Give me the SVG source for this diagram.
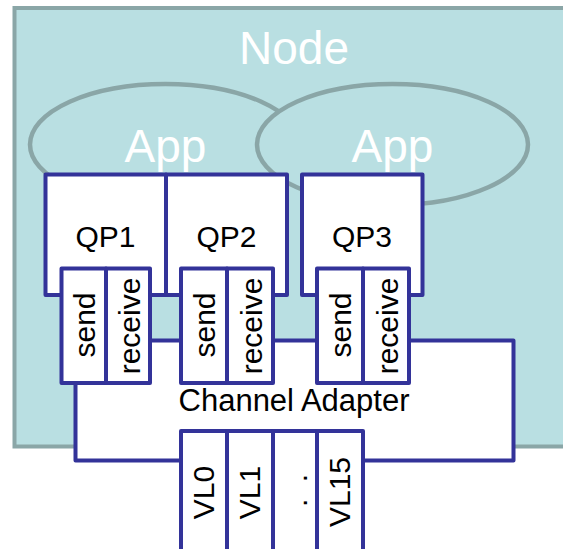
<svg xmlns="http://www.w3.org/2000/svg" width="563" height="549" viewBox="0 0 563 549">
<style>
.txt{font-family:"Liberation Sans",Arial,sans-serif;}
.big{font-size:46px;fill:#ffffff;text-anchor:middle;}
.lbl{font-size:30px;fill:#000000;text-anchor:middle;}
.app{fill:#b9dfe2;stroke:#8aa6a7;stroke-width:4.5;}
.box{fill:#ffffff;stroke:#333399;stroke-width:4;stroke-linejoin:round;}
</style>
<rect width="563" height="549" fill="#ffffff"/>
<g id="node">
  <rect x="14.5" y="8" width="600" height="438.5" fill="#b9dfe2" stroke="#8aa6a7" stroke-width="4"/>
  <text class="txt big" x="294" y="64">Node</text>
</g>
<g id="app1">
  <ellipse class="app" cx="165.5" cy="144.5" rx="135.5" ry="60.5"/>
  <text class="txt big" x="165.5" y="162">App</text>
</g>
<g id="app2">
  <ellipse class="app" cx="392.5" cy="144.5" rx="135.5" ry="60.5"/>
  <text class="txt big" x="392.5" y="162">App</text>
</g>
<g id="qp1">
  <rect class="box" x="45.5" y="174.5" width="120.5" height="120.5"/>
  <text class="txt lbl" x="105.5" y="246.5">QP1</text>
</g>
<g id="qp2">
  <rect class="box" x="166" y="174.5" width="121" height="120.5"/>
  <text class="txt lbl" x="226.5" y="246.5">QP2</text>
</g>
<g id="qp3">
  <rect class="box" x="302" y="174.5" width="120.5" height="120.5"/>
  <text class="txt lbl" x="362" y="246.5">QP3</text>
</g>
<g id="channel-adapter">
  <rect class="box" x="75.5" y="340.5" width="438" height="120"/>
  <text class="txt lbl" x="294" y="411" style="font-size:31px">Channel Adapter</text>
</g>
<g id="qp1-send">
  <rect class="box" x="61.5" y="268.5" width="44.5" height="114.5"/>
  <text class="txt lbl" transform="translate(83.75,325) rotate(-90)" x="0" y="11">send</text>
</g>
<g id="qp1-receive">
  <rect class="box" x="106" y="268.5" width="44" height="114.5"/>
  <text class="txt lbl" transform="translate(128,326) rotate(-90)" x="0" y="12">receive</text>
</g>
<g id="qp2-send">
  <rect class="box" x="181" y="268.5" width="46" height="114.5"/>
  <text class="txt lbl" transform="translate(204,325) rotate(-90)" x="0" y="11">send</text>
</g>
<g id="qp2-receive">
  <rect class="box" x="227" y="268.5" width="46" height="114.5"/>
  <text class="txt lbl" transform="translate(250,326) rotate(-90)" x="0" y="12">receive</text>
</g>
<g id="qp3-send">
  <rect class="box" x="317" y="268.5" width="46" height="114.5"/>
  <text class="txt lbl" transform="translate(340,325) rotate(-90)" x="0" y="11">send</text>
</g>
<g id="qp3-receive">
  <rect class="box" x="363" y="268.5" width="46" height="114.5"/>
  <text class="txt lbl" transform="translate(386,326) rotate(-90)" x="0" y="12">receive</text>
</g>
<g id="vl0">
  <rect class="box" x="181" y="431" width="46" height="140"/>
  <text class="txt lbl" transform="translate(204,492.5) rotate(-90)" x="0" y="10">VL0</text>
</g>
<g id="vl1">
  <rect class="box" x="227" y="431" width="46" height="140"/>
  <text class="txt lbl" transform="translate(250,492.5) rotate(-90)" x="0" y="10">VL1</text>
</g>
<g id="vl-dots">
  <rect class="box" x="273" y="431" width="44" height="140"/>
  <text class="txt lbl" transform="translate(295,488.5) rotate(-90)" x="0" y="11.5" letter-spacing="4">. .</text>
</g>
<g id="vl15">
  <rect class="box" x="317" y="431" width="46" height="140"/>
  <text class="txt lbl" transform="translate(340,492) rotate(-90)" x="0" y="10">VL15</text>
</g>
</svg>
